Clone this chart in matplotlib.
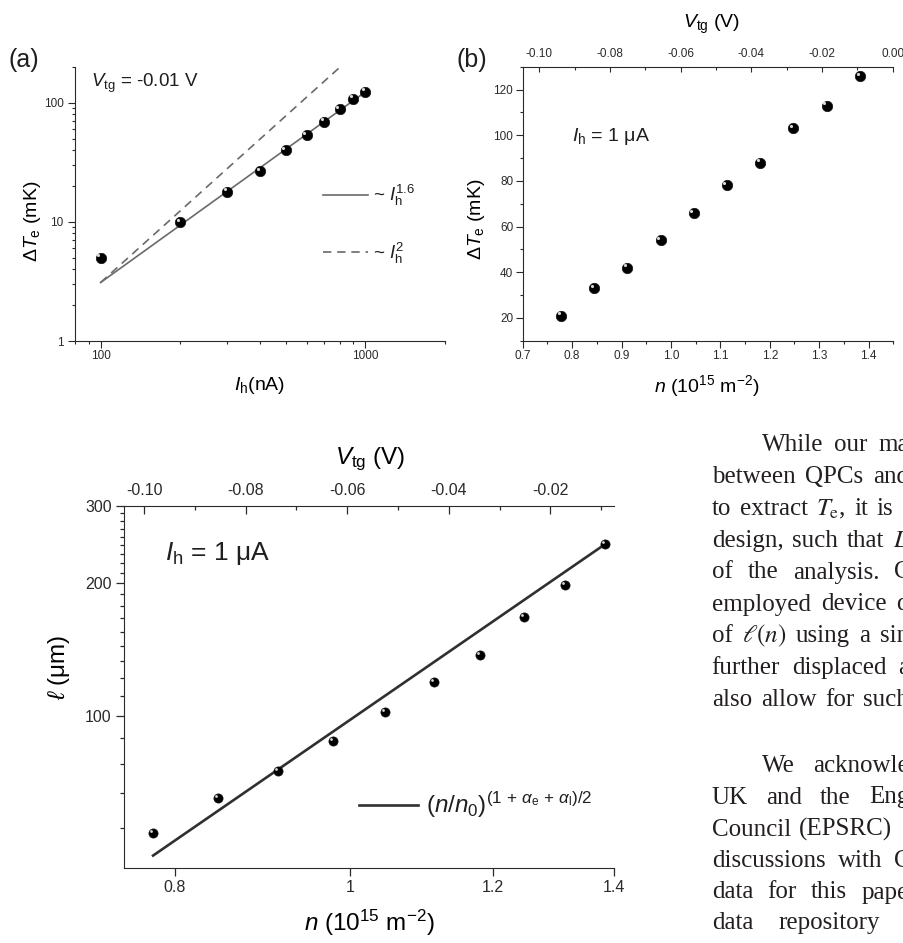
import numpy as np
import matplotlib
matplotlib.use("Agg")
import matplotlib.pyplot as plt
from matplotlib.ticker import (FixedLocator, FormatStrFormatter, LogLocator,
                               MultipleLocator, NullFormatter, NullLocator)
from matplotlib.transforms import offset_copy

W, H, DPI = 904, 943, 100
INK = "#1f1f1f"
AXIS = "#2a2a2a"

# (a) temperature rise vs heater current
ih_na = [100, 200, 300, 400, 500, 600, 700, 800, 900, 1000]
dte_vs_ih = [5.0, 10.0, 18.0, 26.8, 40.0, 53.5, 69.5, 88.5, 108.5, 124.5]
fit_a_pref = 3.1          # mK at 100 nA
fit_a_exps = [1.6, 2.0]

# (b) temperature rise vs density, I_h = 1 uA
density = [0.778, 0.845, 0.912, 0.979, 1.046, 1.113, 1.180, 1.248, 1.315, 1.383]
dte_vs_n = [21, 33, 42, 54, 66, 78, 88, 103, 113, 126]
vtg_ticks_b = [-0.10, -0.08, -0.06, -0.04, -0.02, 0.00]

# (c) length scale vs density
ell_um = [54.1, 65.1, 74.8, 87.5, 102.1, 119.3, 137.9, 167.8, 198.2, 245.3]
fit_c_pref = 98.0
fit_c_exp = 2.83
vtg_ticks_c = [-0.10, -0.08, -0.06, -0.04, -0.02]

# body text beside panel (c): baseline px, first-word x px, justified line end px, words
BODY = [
    (451, 761.7, 909, "While our ma"),
    (483, 711.7, 909, "between QPCs and"),
    (515, 711.7, 893, "to extract $T_{\\mathrm{e}}$, it is"),
    (547, 711.7, 909, "design, such that $L$"),
    (578.5, 711.7, 911, "of the analysis. C"),
    (610.5, 711.7, 909, "employed device d"),
    (642, 711.7, 909, "of $\\ell(n)$ using a sin"),
    (674, 711.7, 909, "further displaced a"),
    (706, 711.7, 909, "also allow for such"),
    (772, 761.7, 909, "We acknowle"),
    (803.5, 711.7, 909, "UK and the Eng"),
    (835.5, 711.7, 892, "Council (EPSRC)"),
    (867, 711.7, 911, "discussions with C"),
    (898.5, 711.7, 909, "data for this pape"),
    (929, 711.7, 880, "data repository"),
]
SPACE_PX = 6.25

plt.rcParams.update({
    "font.family": ["Liberation Sans", "DejaVu Sans"],
    "mathtext.fontset": "custom",
    "mathtext.rm": "Liberation Sans",
    "mathtext.it": "Liberation Sans:italic",
    "mathtext.bf": "Liberation Sans:bold",
    "axes.unicode_minus": False,
    "axes.linewidth": 0.8,
    "axes.edgecolor": AXIS,
    "xtick.color": AXIS,
    "ytick.color": AXIS,
    "text.color": INK,
})


def rect(left, top, right, bottom):
    return [left / W, 1 - bottom / H, (right - left) / W, (bottom - top) / H]


def fx(x):
    return x / W


def fy(y):
    return 1 - y / H


def balls(ax, x, y, size):
    ax.plot(x, y, "o", ms=size, color="black", mec="#111111", mew=0.5, zorder=4)
    shine = offset_copy(ax.transData, fig=ax.figure, x=-size * 0.22, y=size * 0.22, units="points")
    ax.plot(x, y, "o", ms=size * 0.3, color="white", mec="none", alpha=0.85,
            transform=shine, zorder=5)


fig = plt.figure(figsize=(W / DPI, H / DPI), dpi=DPI, facecolor="white")

# ---------------- panel (a) ----------------
ax_a = fig.add_axes(rect(75, 67, 445, 341))
ax_a.set_xscale("log")
ax_a.set_yscale("log")
ih_line = np.array([100.0, 1000.0])
solid, = ax_a.plot(ih_line, fit_a_pref * (ih_line / 100) ** fit_a_exps[0],
                   color="#6a6a6a", lw=1.2, zorder=2)
dashed, = ax_a.plot(ih_line, fit_a_pref * (ih_line / 100) ** fit_a_exps[1],
                    color="#6a6a6a", lw=1.2, ls=(0, (5, 3.5)), zorder=2)
balls(ax_a, ih_na, dte_vs_ih, 7.5)
ax_a.set_xlim(80, 2000)
ax_a.set_ylim(1, 200)
ax_a.spines[["top", "right"]].set_visible(False)
ax_a.xaxis.set_major_locator(FixedLocator([100, 1000]))
ax_a.xaxis.set_major_formatter(FormatStrFormatter("%g"))
ax_a.xaxis.set_minor_locator(LogLocator(base=10, subs=np.arange(2, 10)))
ax_a.xaxis.set_minor_formatter(NullFormatter())
ax_a.yaxis.set_major_locator(FixedLocator([1, 10, 100]))
ax_a.yaxis.set_major_formatter(FormatStrFormatter("%g"))
ax_a.yaxis.set_minor_locator(LogLocator(base=10, subs=np.arange(2, 10)))
ax_a.yaxis.set_minor_formatter(NullFormatter())
ax_a.tick_params(which="both", direction="out", labelsize=8.5, width=0.8)
ax_a.tick_params(which="major", length=4.8)
ax_a.tick_params(which="minor", length=2.4)
ax_a.tick_params(axis="x", pad=2)
ax_a.tick_params(axis="y", pad=3.5)
ax_a.set_xlabel("$I_{\\mathrm{h}}$(nA)", fontsize=14)
ax_a.xaxis.set_label_coords(0.5, -0.124)
ax_a.set_ylabel("Δ$T_{\\mathrm{e}}$ (mK)", fontsize=14)
ax_a.yaxis.set_label_coords(-0.086, 0.438)
ax_a.legend([solid, dashed], ["~ $I_{\\mathrm{h}}^{1.6}$", "~ $I_{\\mathrm{h}}^{2}$"],
            loc="center left", bbox_to_anchor=(0.670, 0.425), frameon=False,
            fontsize=13.5, handlelength=2.4, handletextpad=0.25, labelspacing=1.75,
            borderpad=0, borderaxespad=0)
fig.text(fx(91), fy(87), "$V_{\\mathrm{tg}}$ = -0.01 V", fontsize=13.5, va="baseline")
fig.text(fx(8), fy(60), "(a)", fontsize=18, va="center")

# ---------------- panel (b) ----------------
ax_b = fig.add_axes(rect(522.7, 66.7, 893.3, 340.7))
balls(ax_b, density, dte_vs_n, 7.5)
ax_b.set_xlim(0.7, 1.45)
ax_b.set_ylim(10, 130)
ax_b.spines[["top", "right"]].set_visible(False)
ax_b.xaxis.set_major_locator(MultipleLocator(0.1))
ax_b.xaxis.set_major_formatter(FormatStrFormatter("%.1f"))
ax_b.xaxis.set_minor_locator(MultipleLocator(0.05))
ax_b.yaxis.set_major_locator(MultipleLocator(20))
ax_b.yaxis.set_minor_locator(MultipleLocator(10))
ax_b.tick_params(which="both", direction="out", labelsize=8.5, width=0.8, pad=2)
ax_b.tick_params(which="major", length=4.8)
ax_b.tick_params(which="minor", length=2.4)
ax_b.set_xlabel("$n$ (10$^{15}$ m$^{-2}$)", fontsize=14)
ax_b.xaxis.set_label_coords(0.4965, -0.119)
ax_b.set_ylabel("Δ$T_{\\mathrm{e}}$ (mK)", fontsize=14)
ax_b.yaxis.set_label_coords(-0.097, 0.444)

ax_bt = ax_b.twiny()
ax_bt.set_xlim(-0.1047, 0.0002)
ax_bt.spines[["right", "left", "bottom"]].set_visible(False)
ax_bt.xaxis.set_major_locator(FixedLocator(vtg_ticks_b))
ax_bt.xaxis.set_major_formatter(FormatStrFormatter("%.2f"))
ax_bt.xaxis.set_minor_locator(MultipleLocator(0.01))
ax_bt.tick_params(which="both", direction="in", labelsize=8.5, width=0.8, pad=5)
ax_bt.tick_params(which="major", length=3.6)
ax_bt.tick_params(which="minor", length=2.4)
ax_bt.set_xlabel("$V_{\\mathrm{tg}}$ (V)", fontsize=14)
ax_bt.xaxis.set_label_coords(0.510, 1.14)
fig.text(fx(571.7), fy(141), "$I_{\\mathrm{h}}$ = 1 μA", fontsize=14, va="baseline")
fig.text(fx(456.7), fy(60), "(b)", fontsize=18, va="center")

# ---------------- panel (c) ----------------
ax_c = fig.add_axes(rect(124.3, 506, 614.3, 867.7))
ax_c.set_xscale("log")
ax_c.set_yscale("log")
n_line = np.array([density[0], density[-1]])
fit_c, = ax_c.plot(n_line, fit_c_pref * n_line ** fit_c_exp, color="#303030", lw=1.9, zorder=2)
balls(ax_c, density, ell_um, 6.6)
ax_c.set_xlim(0.75, 1.4)
ax_c.set_ylim(45.2, 300)
ax_c.spines[["top", "right"]].set_visible(False)
ax_c.xaxis.set_major_locator(FixedLocator([0.8, 1.0, 1.2, 1.4]))
ax_c.xaxis.set_major_formatter(FormatStrFormatter("%g"))
ax_c.xaxis.set_minor_locator(NullLocator())
ax_c.yaxis.set_major_locator(FixedLocator([100, 200, 300]))
ax_c.yaxis.set_major_formatter(FormatStrFormatter("%g"))
minor_c = np.concatenate([100 - np.arange(1, 5) * 100 / 9,
                          100 + np.arange(1, 9) * 100 / 9,
                          200 + np.arange(1, 9) * 100 / 9])
ax_c.yaxis.set_minor_locator(FixedLocator(minor_c))
ax_c.yaxis.set_minor_formatter(NullFormatter())
ax_c.tick_params(which="both", direction="out", labelsize=11.5, width=0.9)
ax_c.tick_params(which="major", length=5.5)
ax_c.tick_params(which="minor", length=3.0)
ax_c.tick_params(axis="x", pad=3)
ax_c.tick_params(axis="y", pad=3.5)
ax_c.set_xlabel("$n$ (10$^{15}$ m$^{-2}$)", fontsize=17.5)
ax_c.xaxis.set_label_coords(0.50, -0.112)
ax_c.set_ylabel("$\\ell$ (μm)", fontsize=17.5)
ax_c.yaxis.set_label_coords(-0.107, 0.555)
ax_c.legend([fit_c], ["$(n/n_0)^{(1\\,+\\,\\alpha_{\\mathrm{e}}\\,+\\,\\alpha_{\\mathrm{l}})/2}$"],
            loc="center left", bbox_to_anchor=(0.4796, 0.1733), frameon=False,
            fontsize=17.5, handlelength=2.4, handletextpad=0.35,
            borderpad=0, borderaxespad=0)

ax_ct = ax_c.twiny()
ax_ct.set_xlim(-0.1039, -0.0074)
ax_ct.spines[["right", "left", "bottom"]].set_visible(False)
ax_ct.xaxis.set_major_locator(FixedLocator(vtg_ticks_c))
ax_ct.xaxis.set_major_formatter(FormatStrFormatter("%.2f"))
ax_ct.xaxis.set_minor_locator(MultipleLocator(0.01))
ax_ct.tick_params(which="both", direction="in", labelsize=11.5, width=0.9, pad=6)
ax_ct.tick_params(which="major", length=5.5)
ax_ct.tick_params(which="minor", length=3.0)
ax_ct.set_xlabel("$V_{\\mathrm{tg}}$ (V)", fontsize=17.5)
ax_ct.xaxis.set_label_coords(0.501, 1.115)
fig.text(fx(165), fy(560), "$I_{\\mathrm{h}}$ = 1 μA", fontsize=19, va="baseline")

# ---------------- body text (justified, running off the right edge) ----------------
fig.canvas.draw()
renderer = fig.canvas.get_renderer()
for baseline, start, line_end, line in BODY:
    words = line.split(" ")
    texts = [fig.text(0, fy(baseline), w, fontsize=18, va="baseline", ha="left",
                      family=["Liberation Serif", "DejaVu Serif"],
                      math_fontfamily="stix", color="#231f20") for w in words]
    widths = [t.get_window_extent(renderer).width for t in texts]
    gap = SPACE_PX
    if len(words) > 1:
        gap = max(SPACE_PX, (line_end - start - sum(widths)) / (len(words) - 1))
    x = start
    for t, w in zip(texts, widths):
        t.set_x(fx(x))
        x += w + gap

fig.savefig("out.png", dpi=DPI, facecolor="white")
